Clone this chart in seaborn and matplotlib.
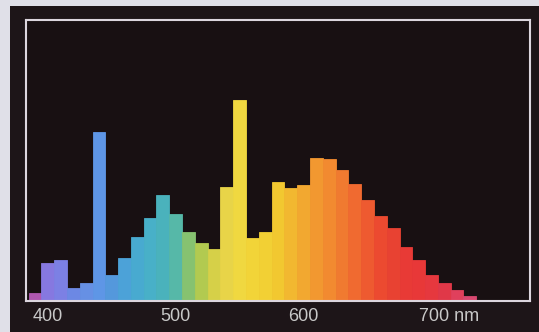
import matplotlib
matplotlib.use("Agg")
import matplotlib.pyplot as plt
import seaborn as sns
import pandas as pd
from matplotlib.patches import Rectangle
from matplotlib.transforms import ScaledTranslation

# ---- data ----
wavelengths = [390, 400, 410, 420, 430, 440, 450, 460, 470, 480, 490, 500,
               510, 520, 530, 540, 550, 560, 570, 580, 590, 600, 610, 620,
               630, 640, 650, 660, 670, 680, 690, 700, 710, 720, 730]
intensity = [7, 37, 40, 12, 17, 168, 25, 42, 63, 82, 105, 86,
             68, 57, 51, 113, 200, 62, 68, 118, 112, 115, 142, 141,
             130, 116, 100, 84, 72, 53, 40, 25, 17, 10, 4]
tick_values = [400, 500, 600, 700]
tick_labels = ["400", "500", "600", "700 nm"]

# ---- style ----
bar_colors = ["#b058b0", "#8678e0", "#7c80e4", "#6c88e4", "#6690e4", "#5e96e6",
              "#5498dc", "#4ca2d8", "#48aad0", "#48b0c8", "#4ab2bc", "#56b8a8",
              "#86c270", "#b2ca50", "#d6d048", "#e8d448", "#f0d840", "#f2d438",
              "#f2d034", "#f2c830", "#f2b830", "#f2a830", "#f29830", "#f28a30",
              "#f07a30", "#f06a30", "#ee5a30", "#ec4a30", "#e84232", "#e83a36",
              "#e83838", "#e6383e", "#e03848", "#e0405c", "#d84870"]

sns.set_style("dark")
plt.rcParams["font.family"] = ["Liberation Sans", "DejaVu Sans"]

fig = plt.figure(figsize=(5.39, 3.32), dpi=100)
fig.patch.set_facecolor("#e0e0e8")
fig.patches.append(Rectangle((10 / 539, 0), 1, (332 - 6) / 332,
                             transform=fig.transFigure, facecolor="#1d1518",
                             edgecolor="none", zorder=-5))

ax = fig.add_axes([26 / 539, 31 / 332, 504 / 539, 281 / 332])
ax.set_zorder(2)
ax.set_facecolor("#181012")

df = pd.DataFrame({"wavelength": wavelengths, "intensity": intensity})
sns.barplot(data=df, x="wavelength", y="intensity", native_scale=True,
            width=1.0, color="white", linewidth=0, errorbar=None, ax=ax)
for patch, c in zip(ax.patches, bar_colors):
    patch.set_facecolor(c)
    patch.set_edgecolor(c)
    patch.set_linewidth(0.6)

ax.set_xlim(383, 777)
ax.set_ylim(-1, 280)
ax.set_xticks(tick_values, tick_labels)
ax.set_yticks([])
ax.set_xlabel("")
ax.set_ylabel("")
ax.grid(False)
ax.tick_params(axis="x", length=0, pad=5, labelcolor="#c8c8c8", labelsize=13)
last = ax.get_xticklabels()[-1]
last.set_transform(last.get_transform() + ScaledTranslation(0.175, 0, fig.dpi_scale_trans))

for s in ax.spines.values():
    s.set_visible(True)
    s.set_color("#dcd6de")
    s.set_linewidth(1.5)

fig.savefig("out.png", dpi=100, facecolor=fig.get_facecolor())
